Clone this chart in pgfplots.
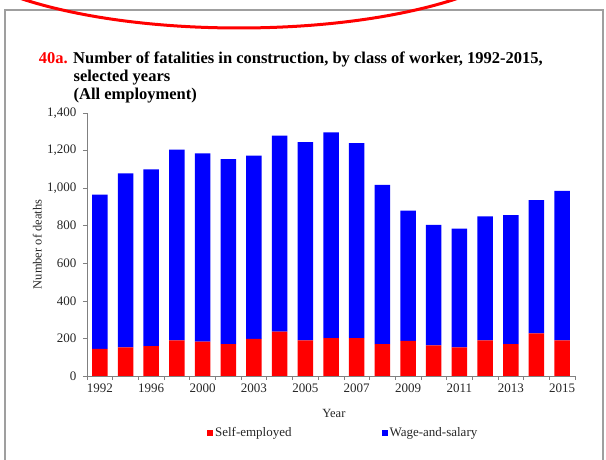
\documentclass[border=0pt]{standalone}
\usepackage{fontspec}
\setmainfont{Liberation Serif}
\usepackage{pgfplots}
\pgfplotsset{compat=1.18}

\begin{document}
\begin{tikzpicture}[x=1pt,y=1pt]
\useasboundingbox (0,0) rectangle (606,460);
% frame and the red ring round the top
\begin{scope}
  \clip (0,0) rectangle (606,460);
  \draw[gray!75, line width=1.3pt] (5,0) -- (5,450) -- (603,450) -- (603,0);
  \draw[red, line width=3pt] (239,526) ellipse [x radius=300, y radius=94];
\end{scope}
% title
\node[anchor=base west, inner sep=0, font=\bfseries\fontsize{16.5}{18}\selectfont] at (38.6,396)
  {\textcolor{red}{40a.} Number of fatalities in construction, by class of worker, 1992-2015,};
\node[anchor=base west, inner sep=0, font=\bfseries\fontsize{16.5}{18}\selectfont] at (73.4,378) {selected years};
\node[anchor=base west, inner sep=0, font=\bfseries\fontsize{16.5}{18}\selectfont] at (73.4,360) {(All employment)};

\begin{axis}[
    at={(87pt,84pt)}, anchor=south west,
    scale only axis, width=488pt, height=263pt,
    ybar stacked, bar width=15.5pt,
    xmin=-0.5, xmax=18.5, ymin=0, ymax=1400,
    axis x line*=bottom, axis y line*=left,
    axis line style={-, draw=gray, line width=0.8pt},
    tick align=outside,
    ytick={0,200,...,1400},
    xtick={0,2,...,18},
    xticklabels={1992,1996,2000,2003,2005,2007,2009,2011,2013,2015},
    minor xtick={-0.5,0.5,...,18.5},
    major x tick style={draw=none},
    minor x tick style={draw=gray, line width=0.6pt},
    ytick style={draw=gray, line width=0.6pt},
    major tick length=4pt, minor tick length=4pt,
    /pgf/number format/assume math mode=true,
    /pgf/number format/1000 sep={,},
    tick label style={font=\fontsize{13}{15}\selectfont, text=black!85},
    yticklabel style={xshift=-3pt},
    xlabel={Year},
    ylabel={Number of deaths},
    label style={font=\fontsize{12.5}{15}\selectfont, text=black!85},
    xlabel style={at={(axis description cs:0.506,-0.141)}, anchor=center},
    ylabel style={at={(axis description cs:-0.102,0.5)}, anchor=center},
    legend columns=2,
    legend image code/.code={\fill[#1] (0pt,-3pt) rectangle (6pt,3pt);},
    legend style={draw=none, fill=none, at={(0.525,-0.217)}, anchor=center,
        font=\fontsize{13}{15}\selectfont, text=black!85,
        /tikz/every even column/.append style={column sep=88pt}},
]
% self-employed (bottom), years 1992,1994,1996,1998,2000,2002,2003,...,2015
\addplot[fill=red, draw=none] coordinates {
 (0,145) (1,152) (2,159) (3,190) (4,183) (5,170) (6,197) (7,236) (8,190) (9,201)
 (10,201) (11,170) (12,187) (13,163) (14,152) (15,190) (16,170) (17,227) (18,190)};
\addlegendentry{Self-employed}
% wage-and-salary (on top)
\addplot[fill=blue, draw=none] coordinates {
 (0,820) (1,926) (2,941) (3,1015) (4,1002) (5,985) (6,976) (7,1044) (8,1055) (9,1096)
 (10,1039) (11,848) (12,693) (13,642) (14,632) (15,660) (16,686) (17,709) (18,795)};
\addlegendentry{Wage-and-salary}
\end{axis}
\end{tikzpicture}
\end{document}
